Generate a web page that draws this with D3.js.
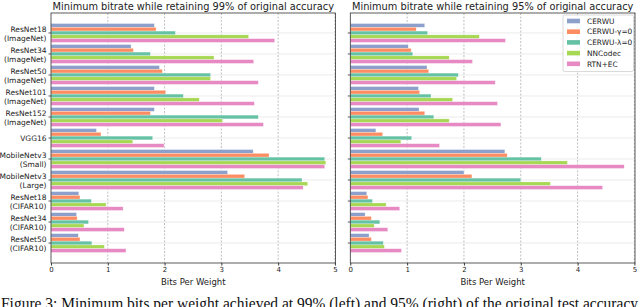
<!DOCTYPE html>
<html>
<head>
<meta charset="utf-8">
<script src="https://cdn.jsdelivr.net/npm/d3@7"></script>
<style>
  body { margin: 0; background: white; }
  svg { display: block; }
  text { font-family: "DejaVu Sans", sans-serif; fill: #222; }
  text.caption { font-family: "Liberation Serif", serif; fill: #111; }
</style>
</head>
<body>
<svg id="chart" width="640" height="307"></svg>
<script>
// categories (two-line tick labels)
const models = ["ResNet18", "ResNet34", "ResNet50", "ResNet101", "ResNet152", "VGG16",
                "MobileNetv3", "MobileNetv3", "ResNet18", "ResNet34", "ResNet50"]
const datasets = ["(ImageNet)", "(ImageNet)", "(ImageNet)", "(ImageNet)", "(ImageNet)", "",
                  "(Small)", "(Large)", "(CIFAR10)", "(CIFAR10)", "(CIFAR10)"]
const methods = ["CERWU", "CERWU-\u03b3=0", "CERWU-\u03bb=0", "NNCodec", "RTN+EC"]
const xticks = [0, 1, 2, 3, 4, 5]

// bits per weight, 99% accuracy
const cerwu99  = [1.82, 1.41, 1.91, 1.82, 1.82, 0.80, 3.56, 3.11, 0.49, 0.45, 0.48]
const gamma99  = [1.85, 1.45, 1.96, 2.02, 1.75, 0.88, 3.84, 3.41, 0.51, 0.46, 0.51]
const lambda99 = [2.19, 1.75, 2.81, 2.33, 3.65, 1.79, 4.82, 4.42, 0.71, 0.66, 0.72]
const nnc99    = [3.48, 2.87, 2.81, 2.61, 3.02, 1.44, 4.84, 4.52, 0.97, 0.58, 0.94]
const rtn99    = [3.94, 3.57, 3.65, 3.58, 3.74, 1.99, 4.82, 4.44, 1.27, 1.29, 1.32]

// bits per weight, 95% accuracy
const cerwu95  = [1.31, 1.02, 1.35, 1.20, 1.21, 0.45, 2.72, 2.00, 0.29, 0.26, 0.33]
const gamma95  = [1.16, 1.07, 1.38, 1.22, 1.31, 0.57, 2.76, 2.14, 0.31, 0.37, 0.37]
const lambda95 = [1.36, 1.10, 1.90, 1.42, 1.47, 1.08, 3.36, 3.00, 0.39, 0.52, 0.58]
const nnc95    = [2.27, 1.74, 1.87, 1.80, 1.74, 0.89, 3.82, 3.52, 0.63, 0.42, 0.60]
const rtn95    = [2.73, 2.15, 2.55, 2.59, 2.65, 1.57, 4.82, 4.44, 0.87, 0.66, 0.90]

const colors = ["#8da0cb", "#fc8d62", "#66c2a5", "#a6d854", "#e78ac3"]

const panels = [
  {title: "Minimum bitrate while retaining 99% of original accuracy",
   series: [cerwu99, gamma99, lambda99, nnc99, rtn99], x0: 51, x1: 335.5, labels: true},
  {title: "Minimum bitrate while retaining 95% of original accuracy",
   series: [cerwu95, gamma95, lambda95, nnc95, rtn95], x0: 350.3, x1: 635, labels: false, legend: true}
]

const svg = d3.select("#chart")
const yTop = 13, yBottom = 263
const barH = 0.18

panels.forEach(p => {
  const x = d3.scaleLinear().domain([0, 5.01]).range([p.x0, p.x1])
  const y = d3.scaleLinear().domain([-0.95, 10.95]).range([yTop, yBottom])
  const g = svg.append("g")

  // grid
  g.selectAll(".hgrid").data(models).enter().append("line")
    .attr("x1", p.x0).attr("x2", p.x1)
    .attr("y1", (d, i) => y(i)).attr("y2", (d, i) => y(i))
    .attr("stroke", "#e6e6e6").attr("stroke-width", 0.8)
  g.selectAll(".vgrid").data(xticks.slice(1)).enter().append("line")
    .attr("x1", d => x(d)).attr("x2", d => x(d))
    .attr("y1", yTop).attr("y2", yBottom)
    .attr("stroke", "#b0b0b0").attr("stroke-width", 0.8)
    .attr("stroke-dasharray", "2,1.5")

  // bars
  p.series.forEach((vals, k) => {
    g.append("g").selectAll("rect").data(vals).enter().append("rect")
      .attr("x", x(0))
      .attr("y", (d, i) => y(i + (k - 2.5) * barH))
      .attr("width", d => x(d) - x(0))
      .attr("height", y(barH) - y(0))
      .attr("fill", colors[k])
      .attr("stroke", "white").attr("stroke-opacity", 0.6).attr("stroke-width", 0.5)
  })

  // frame
  g.append("rect").attr("x", p.x0).attr("y", yTop)
    .attr("width", p.x1 - p.x0).attr("height", yBottom - yTop)
    .attr("fill", "none").attr("stroke", "#333").attr("stroke-width", 0.8)

  // x axis
  const xa = g.append("g").attr("transform", "translate(0," + yBottom + ")")
    .call(d3.axisBottom(x).tickValues(xticks).tickFormat(d3.format("d")).tickSize(2.5).tickPadding(2))
  xa.select(".domain").remove()
  xa.selectAll(".tick line").attr("stroke", "#333")
  xa.selectAll(".tick text").attr("font-size", 7).attr("font-family", "DejaVu Sans").attr("fill", "#222")

  g.append("text").text("Bits Per Weight")
    .attr("x", (p.x0 + p.x1) / 2).attr("y", 284.8)
    .attr("text-anchor", "middle").attr("font-size", 8.5)

  // y ticks
  g.selectAll(".ytick").data(models).enter().append("line")
    .attr("x1", p.x0 - 2.5).attr("x2", p.x0)
    .attr("y1", (d, i) => y(i)).attr("y2", (d, i) => y(i))
    .attr("stroke", "#333").attr("stroke-width", 0.8)

  if (p.labels) {
    models.forEach((m, i) => {
      const t = g.append("text").attr("text-anchor", "end").attr("font-size", 7.5)
      if (datasets[i]) {
        t.append("tspan").text(m).attr("x", p.x0 - 4.5).attr("y", y(i) - 1.2)
        t.append("tspan").text(datasets[i]).attr("x", p.x0 - 4.5).attr("y", y(i) + 7.6)
      } else {
        t.append("tspan").text(m).attr("x", p.x0 - 4.5).attr("y", y(i) + 2.8)
      }
    })
  }

  // title
  g.append("text").text(p.title)
    .attr("x", (p.x0 + p.x1) / 2).attr("y", 9.5)
    .attr("text-anchor", "middle").attr("font-size", 9.8)

  if (p.legend) {
    const lg = g.append("g")
    lg.append("rect").attr("x", 563).attr("y", 15).attr("width", 70.5).attr("height", 56.5)
      .attr("fill", "white").attr("fill-opacity", 0.85)
      .attr("stroke", "#d0d0d0").attr("stroke-width", 0.8).attr("rx", 1.5)
    methods.forEach((m, k) => {
      const cy = 21 + k * 10.7
      lg.append("rect").attr("x", 567).attr("y", cy - 2.3).attr("width", 13).attr("height", 4.6)
        .attr("fill", colors[k])
      lg.append("text").text(m).attr("x", 587).attr("y", cy + 2.7).attr("font-size", 7.4)
    })
  }
})

// caption
svg.append("text").attr("class", "caption")
  .text("Figure 3: Minimum bits per weight achieved at 99% (left) and 95% (right) of the original test accuracy")
  .attr("x", 1).attr("y", 308.5)
  .attr("font-size", 17.5)
  .attr("textLength", 637).attr("lengthAdjust", "spacingAndGlyphs")
</script>
</body>
</html>
